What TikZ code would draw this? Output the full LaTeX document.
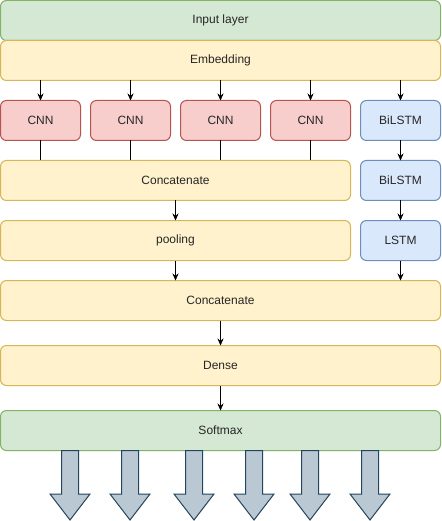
\documentclass[tikz,border=0pt]{standalone}
\usepackage{fontspec}
\setmainfont{Liberation Sans}
\usepackage{xcolor}
\usetikzlibrary{positioning}
\usetikzlibrary{arrows.meta}
\tikzset{>={Stealth[length=7pt,width=6pt]}}
\definecolor{greenfill}{HTML}{D5E8D4}
\definecolor{greendraw}{HTML}{82B366}
\definecolor{yellowfill}{HTML}{FFF2CC}
\definecolor{yellowdraw}{HTML}{D6B656}
\definecolor{redfill}{HTML}{F8CECC}
\definecolor{reddraw}{HTML}{B85450}
\definecolor{bluefill}{HTML}{DAE8FC}
\definecolor{bluedraw}{HTML}{6C8EBF}
\definecolor{arrowfill}{HTML}{BAC8D3}
\definecolor{arrowdraw}{HTML}{23445D}

\begin{document}
\begin{tikzpicture}
	[x=1pt,y=-1pt,inner sep=0pt,outer sep=0pt,
	font=\fontsize{12pt}{14pt}\selectfont,text=black!85,
	layer/.style={rectangle,rounded corners=6pt,line width=1pt,minimum height=40pt},
	green/.style={layer,draw=greendraw,fill=greenfill},
	yellow/.style={layer,draw=yellowdraw,fill=yellowfill},
	red/.style={layer,draw=reddraw,fill=redfill,minimum width=80pt},
	blue/.style={layer,draw=bluedraw,fill=bluefill,minimum width=80pt},
	bigarrow/.style={draw=arrowdraw,fill=arrowfill,line width=1pt,line join=miter}]
	\useasboundingbox (0,0) rectangle (441,521);
	\node [green,minimum width=440pt] (input) at (220.5,20.5) {Input layer};
	\node [yellow,minimum width=440pt] (embed) [below=0pt of input] {Embedding};
	\node [red] (cnn1) at (40.5,120.5) {CNN};
	\node [red] (cnn2) [right=10pt of cnn1] {CNN};
	\node [red] (cnn3) [right=10pt of cnn2] {CNN};
	\node [red] (cnn4) [right=10pt of cnn3] {CNN};
	\node [blue] (bilstm1) [right=10pt of cnn4] {BiLSTM};
	\node [yellow,minimum width=350pt] (concat1) at (175.5,180.5) {Concatenate};
	\node [blue] (bilstm2) [below=20pt of bilstm1] {BiLSTM};
	\node [yellow,minimum width=350pt] (pool) [below=20pt of concat1] {pooling};
	\node [blue] (lstm) [below=20pt of bilstm2] {LSTM};
	\node [yellow,minimum width=440pt] (concat2) at (220.5,300.5) {Concatenate};
	\node [yellow,minimum width=440pt] (dense) at (220.5,365.5) {Dense};
	\node [green,minimum width=440pt] (softmax) at (220.5,430.5) {Softmax};
	\foreach \n in {cnn1,cnn2,cnn3,cnn4,bilstm1}
		\draw[->] (\n |- embed.south) -- (\n);
	\foreach \n in {cnn1,cnn2,cnn3,cnn4}
		\draw (\n) -- (\n |- concat1.north);
	\draw[->] (bilstm1) -- (bilstm2);
	\draw[->] (bilstm2) -- (lstm);
	\draw[->] (concat1) -- (pool);
	\draw[->] (pool) -- (pool |- concat2.north);
	\draw[->] (lstm) -- (lstm |- concat2.north);
	\draw[->] (concat2) -- (dense);
	\draw[->] (dense) -- (softmax);
	\foreach \x in {70,130,194,254,310,370}
		\draw[bigarrow] (\x-8.5,450.5) -- (\x+8.5,450.5) -- (\x+8.5,494) -- (\x+20,494)
			-- (\x,520) -- (\x-20,494) -- (\x-8.5,494) -- cycle;
\end{tikzpicture}
\end{document}
